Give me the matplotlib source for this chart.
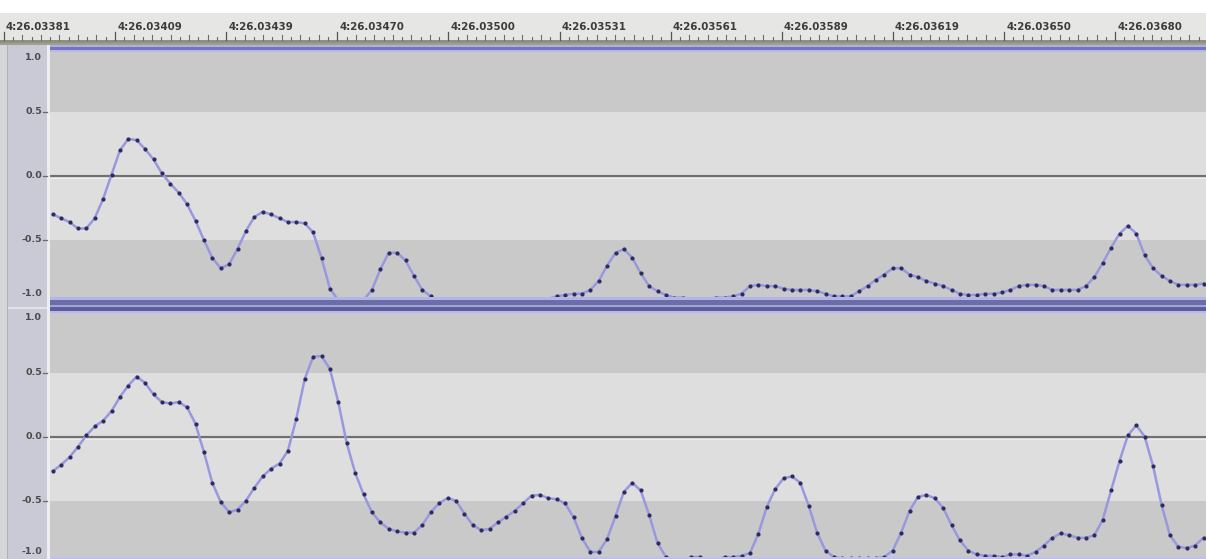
import numpy as np
import matplotlib
matplotlib.use("Agg")
import matplotlib.pyplot as plt
from matplotlib.patches import Rectangle

# ---- data: one value per sample, two channels ----
left_channel = [
    -0.30, -0.33, -0.36, -0.41, -0.41, -0.33, -0.18, 0.01, 0.20, 0.29,
    0.28, 0.21, 0.13, 0.02, -0.06, -0.13, -0.22, -0.35, -0.50, -0.64,
    -0.72, -0.69, -0.57, -0.43, -0.32, -0.28, -0.30, -0.33, -0.36, -0.36,
    -0.37, -0.44, -0.64, -0.88, -0.97, -1.04, -0.97, -0.97, -0.89, -0.73,
    -0.60, -0.60, -0.66, -0.78, -0.89, -0.94, -0.98, -1.03, -1.06, -1.05,
    -1.01, -0.96, -0.96, -0.99, -1.03, -1.05, -1.02, -0.99, -0.96, -0.96,
    -0.94, -0.93, -0.92, -0.92, -0.89, -0.82, -0.70, -0.60, -0.57, -0.64,
    -0.76, -0.86, -0.90, -0.93, -0.95, -0.95, -0.96, -0.97, -0.96, -0.95,
    -0.95, -0.94, -0.92, -0.86, -0.85, -0.86, -0.86, -0.88, -0.89, -0.89,
    -0.89, -0.90, -0.92, -0.94, -0.94, -0.94, -0.90, -0.86, -0.81, -0.77,
    -0.72, -0.72, -0.77, -0.79, -0.82, -0.84, -0.86, -0.89, -0.92, -0.93,
    -0.93, -0.92, -0.92, -0.91, -0.89, -0.86, -0.85, -0.85, -0.86, -0.89,
    -0.89, -0.89, -0.89, -0.86, -0.79, -0.68, -0.56, -0.45, -0.39, -0.45,
    -0.62, -0.72, -0.78, -0.82, -0.85, -0.85, -0.85, -0.84,
]
right_channel = [
    -0.27, -0.22, -0.16, -0.08, 0.01, 0.08, 0.125, 0.20, 0.31, 0.40,
    0.47, 0.42, 0.33, 0.27, 0.26, 0.27, 0.23, 0.10, -0.12, -0.36,
    -0.51, -0.59, -0.57, -0.50, -0.40, -0.31, -0.25, -0.21, -0.11, 0.14,
    0.45, 0.625, 0.63, 0.53, 0.27, -0.05, -0.28, -0.45, -0.59, -0.67,
    -0.72, -0.74, -0.75, -0.75, -0.69, -0.59, -0.52, -0.48, -0.50, -0.60,
    -0.69, -0.73, -0.72, -0.67, -0.625, -0.58, -0.52, -0.46, -0.455, -0.48,
    -0.49, -0.52, -0.63, -0.79, -0.90, -0.90, -0.80, -0.62, -0.43, -0.36,
    -0.42, -0.61, -0.83, -0.94, -0.97, -0.97, -0.94, -0.94, -0.97, -0.96,
    -0.94, -0.94, -0.93, -0.91, -0.76, -0.55, -0.41, -0.325, -0.31, -0.36,
    -0.54, -0.75, -0.89, -0.94, -0.95, -0.95, -0.95, -0.95, -0.95, -0.94,
    -0.89, -0.75, -0.58, -0.47, -0.455, -0.48, -0.555, -0.69, -0.81, -0.89,
    -0.92, -0.93, -0.93, -0.94, -0.92, -0.92, -0.93, -0.90, -0.85, -0.79,
    -0.755, -0.77, -0.79, -0.79, -0.77, -0.65, -0.42, -0.19, 0.01, 0.09,
    0.00, -0.23, -0.53, -0.77, -0.86, -0.87, -0.85, -0.79,
]
time_labels = [
    "4:26.03381", "4:26.03409", "4:26.03439", "4:26.03470", "4:26.03500",
    "4:26.03531", "4:26.03561", "4:26.03589", "4:26.03619", "4:26.03650",
    "4:26.03680",
]
amp_ticks = [1.0, 0.5, 0.0, -0.5, -1.0]
amp_labels = ["1.0", "0.5", "0.0", "-0.5", "-1.0"]

SAMPLE_RATE = 44100
TICK_SECONDS = 0.0003

# ---- layout (pixels) ----
W, H = 1206, 559
X0_PX = 52.7          # pixel of the first sample
PX_PER_SAMPLE = 8.4
TRACK_LEFT = 50

def px_to_idx(px):
    return (px - X0_PX) / PX_PER_SAMPLE

def rect(left, top, width, height):
    return [left / W, (H - top - height) / H, width / W, height / H]

fig = plt.figure(figsize=(W / 100, H / 100), dpi=100)
fig.patch.set_facecolor("white")

BAND_DARK = "#c9c9c9"
BAND_LIGHT = "#dedede"
WAVE = "#9898de"
DOT = "#2c2c60"
LABEL = "#4a4a4a"

def draw_track(ax, values):
    x = np.arange(len(values))
    ax.set_xlim(px_to_idx(TRACK_LEFT), px_to_idx(W))
    ax.set_ylim(-1, 1)
    ax.axhspan(0.5, 1.0, color=BAND_DARK, lw=0, zorder=0)
    ax.axhspan(-0.5, 0.5, color=BAND_LIGHT, lw=0, zorder=0)
    ax.axhspan(-1.0, -0.5, color=BAND_DARK, lw=0, zorder=0)
    ax.axhline(0, color="#f0f0f0", lw=3.4, zorder=1)
    ax.axhline(0, color="#707070", lw=1.7, zorder=1)
    ax.plot(x, values, color=WAVE, lw=1.8, zorder=2, solid_joinstyle="round")
    ax.plot(x, values, "o", color=DOT, ms=3.0, mew=0, zorder=3)
    ax.set_axis_off()

# track 1: amplitude +1 at y=48 px, -1 at y=304 px
ax1 = fig.add_axes(rect(TRACK_LEFT, 48, W - TRACK_LEFT, 256))
draw_track(ax1, left_channel)
# track 2: amplitude +1 at y=308.7 px, -1 below the bottom edge
ax2 = fig.add_axes(rect(TRACK_LEFT, 308.7, W - TRACK_LEFT, 256))
draw_track(ax2, right_channel)

# ---- timeline ruler ----
axr = fig.add_axes(rect(0, 13, W, 32))
axr.set_xlim(px_to_idx(0), px_to_idx(W))
axr.set_ylim(32, 0)
axr.set_axis_off()
axr.add_patch(Rectangle((px_to_idx(0), 0), px_to_idx(W) - px_to_idx(0), 32,
                        color="#e6e6e4", lw=0, zorder=0))
axr.add_patch(Rectangle((px_to_idx(0), 27), px_to_idx(W) - px_to_idx(0), 4,
                        color="#8f917f", lw=0, zorder=1))
step = TICK_SECONDS * SAMPLE_RATE
first_major = px_to_idx(115) - step
for k, lab in enumerate(time_labels):
    pos = first_major + k * step
    axr.plot([pos, pos], [27, 19], color="#555555", lw=0.9, zorder=2)
    axr.text(pos + 0.25, 14.5, lab, fontsize=7.4, fontweight="bold",
             color="#3c3c3c", ha="left", va="center", zorder=3)
    for j in range(1, 12):
        mpos = pos + j * step / 12
        h = 5 if j % 2 == 0 else 3
        axr.plot([mpos, mpos], [27, 27 - h], color="#6a6a6a", lw=0.8, zorder=2)

# ---- overlay: vertical ruler, borders, separator ----
ov = fig.add_axes([0, 0, 1, 1], zorder=10)
ov.set_xlim(0, W)
ov.set_ylim(H, 0)
ov.set_axis_off()
ov.patch.set_alpha(0)

def box(x, y, w, h, c):
    ov.add_patch(Rectangle((x, y), w, h, color=c, lw=0))

# vertical ruler column
box(0, 45, 47, H - 45, "#c9cad6")
box(0, 45, 7, H - 45, "#d6d6d8")
box(6.5, 45, 1, H - 45, "#b0b0b8")
box(47, 45, 3, H - 45, "#eeeef2")
box(7.5, 307, 39.5, 2, "#e2e2ea")

# top border of the first track
box(0, 43, W, 2, "#9fa08e")
box(TRACK_LEFT, 45, W - TRACK_LEFT, 2, "#aeb0d8")
box(TRACK_LEFT, 47, W - TRACK_LEFT, 3, "#7474c0")
box(TRACK_LEFT, 50, W - TRACK_LEFT, 2, "#b8b8e4")

# separator between tracks
box(TRACK_LEFT, 297, W - TRACK_LEFT, 3, "#b4b4e6")
box(TRACK_LEFT, 300, W - TRACK_LEFT, 4.5, "#6c6ca8")
box(TRACK_LEFT, 304.5, W - TRACK_LEFT, 2, "#a4a4d4")
box(TRACK_LEFT, 306.5, W - TRACK_LEFT, 4, "#5e5e9c")
box(TRACK_LEFT, 310.5, W - TRACK_LEFT, 2.5, "#b8b8ea")

# bottom border
box(TRACK_LEFT, 557, W - TRACK_LEFT, 2, "#c0c0ea")

# amplitude labels, placed from each track's amplitude scale
for ax, top_px in ((ax1, 48), (ax2, 308.7)):
    for val, lab in zip(amp_ticks, amp_labels):
        y_px = top_px + (1 - val) * 128
        if val == 1.0:
            y_px = top_px + 9
        elif val == -1.0:
            y_px = min(top_px + 246, H - 8)
        ov.text(42, y_px, lab, fontsize=6.8, fontweight="bold", color=LABEL,
                ha="right", va="center")
        if abs(val) < 1:
            ov.plot([42.5, 46.5], [y_px, y_px], color="#6a6a6a", lw=0.9)

fig.savefig("out.png", dpi=100)
